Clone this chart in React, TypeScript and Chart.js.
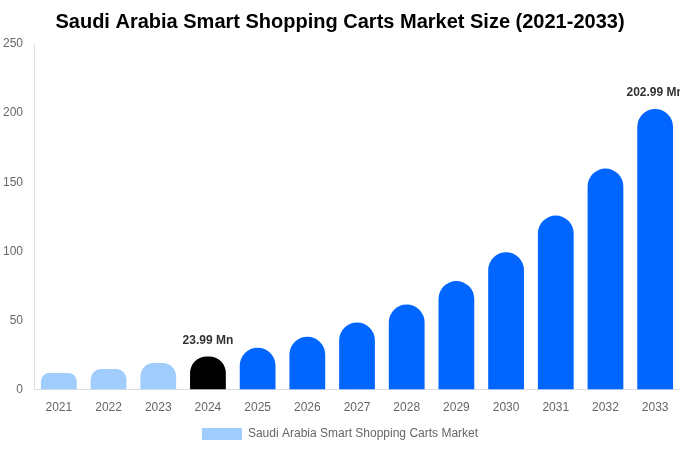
import React, { useEffect, useRef } from "react";
import { Chart, registerables } from "chart.js";

Chart.register(...registerables);

const years = ["2021","2022","2023","2024","2025","2026","2027","2028","2029","2030","2031","2032","2033"];
const marketValues = [12.0, 14.9, 19.2, 23.99, 30.3, 38.3, 48.6, 61.6, 78.5, 99.4, 125.9, 159.9, 202.99];
const barColors = ["#a0cdfc","#a0cdfc","#a0cdfc","#000000","#0066ff","#0066ff","#0066ff","#0066ff","#0066ff","#0066ff","#0066ff","#0066ff","#0066ff"];
const labelledIndexes = [3, 12];
const labelTexts = ["23.99 Mn", "202.99 Mn"];
const seriesName = "Saudi Arabia Smart Shopping Carts Market";
const titleText = "Saudi Arabia Smart Shopping Carts Market Size (2021-2033)";

const FONT = "'Liberation Sans', Arial, sans-serif";

const valueLabelPlugin = {
  id: "valueLabels",
  afterDatasetsDraw(chart: any) {
    const ctx = chart.ctx;
    const meta = chart.getDatasetMeta(0);
    ctx.save();
    ctx.font = "bold 12px " + FONT;
    ctx.fillStyle = "#333333";
    ctx.textAlign = "center";
    ctx.textBaseline = "bottom";
    labelledIndexes.forEach((idx, i) => {
      const el = meta.data[idx];
      if (!el) return;
      ctx.fillText(labelTexts[i], el.x, el.y - 10);
    });
    ctx.restore();
  },
};

export default function App() {
  const ref = useRef<HTMLCanvasElement | null>(null);
  useEffect(() => {
    document.body.style.margin = "0";
    if (!ref.current) return;
    const chart = new Chart(ref.current, {
      type: "bar",
      data: {
        labels: years,
        datasets: [
          {
            label: seriesName,
            data: marketValues,
            backgroundColor: barColors,
            borderRadius: { topLeft: 30, topRight: 30, bottomLeft: 0, bottomRight: 0 },
            borderSkipped: false,
          },
        ],
      },
      options: {
        animation: false,
        responsive: true,
        maintainAspectRatio: false,
        layout: { padding: { left: 0, right: 0, top: 0, bottom: 0 } },
        plugins: {
          title: {
            display: true,
            text: titleText,
            color: "#000000",
            font: { size: 20, weight: "bold", family: FONT },
            padding: { top: 10, bottom: 10 },
          },
          legend: {
            position: "bottom",
            labels: {
              color: "#666666",
              boxWidth: 40,
              boxHeight: 12,
              padding: 10,
              font: { size: 12, family: FONT },
              generateLabels: () => [
                {
                  text: seriesName,
                  fillStyle: "#a0cdfc",
                  strokeStyle: "#a0cdfc",
                  lineWidth: 0,
                  hidden: false,
                  datasetIndex: 0,
                  fontColor: "#666666",
                } as any,
              ],
            },
          },
          tooltip: { enabled: false },
        },
        scales: {
          x: {
            grid: { display: false },
            border: { display: true, color: "#dddddd" },
            ticks: { color: "#666666", font: { size: 12, family: FONT }, padding: 3 },
          },
          y: {
            min: 0,
            max: 250,
            grid: { display: false },
            border: { display: true, color: "#dddddd" },
            ticks: { stepSize: 50, color: "#666666", font: { size: 12, family: FONT }, padding: 3 },
          },
        },
      },
      plugins: [valueLabelPlugin],
    });
    return () => chart.destroy();
  }, []);
  return (
    <div style={{ position: "fixed", left: 0, top: 0, width: 680, height: 450 }}>
      <canvas ref={ref} />
    </div>
  );
}
